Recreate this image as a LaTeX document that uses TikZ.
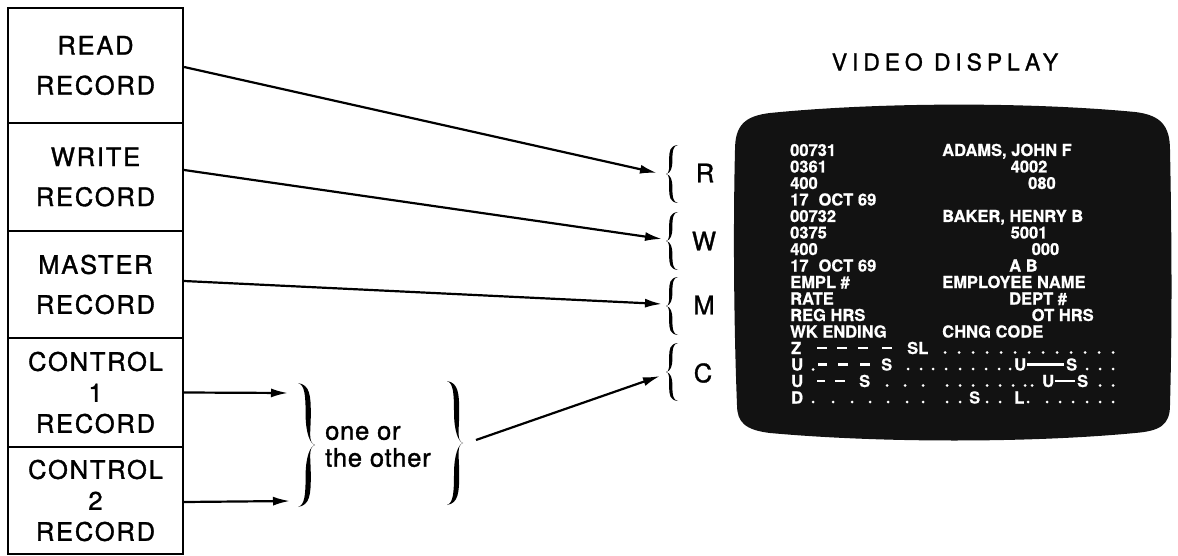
\documentclass[tikz,border=0pt]{standalone}
\usepackage{fontspec}
\setmainfont{TeX Gyre Heros}
\newfontfamily\lblfont[LetterSpace=7,FakeBold=1.3]{TeX Gyre Heros}
\newfontfamily\notefont[LetterSpace=3,FakeBold=1.3]{TeX Gyre Heros}
\newfontfamily\ttlfont[LetterSpace=21,FakeBold=1.2]{TeX Gyre Heros}
\newfontfamily\scrfont[BoldFeatures={FakeBold=0.7}]{TeX Gyre Heros}
\usetikzlibrary{arrows.meta}
\definecolor{screenblack}{HTML}{121212}
\newcommand\mybrace[5]{%
\fill[black] ({#1+(#4)},{#2-(#3)})
 .. controls ({#1+0.45*(#4)-(#5)},{#2-0.97*(#3)}) and ({#1+0.4*(#4)-(#5)},{#2-0.8*(#3)}) .. ({#1+0.4*(#4)-(#5)},{#2-0.5*(#3)})
 .. controls ({#1+0.4*(#4)-(#5)},{#2-0.2*(#3)}) and ({#1+0.3*(#4)},{#2-0.02*(#3)}) .. (#1,#2)
 .. controls ({#1+0.3*(#4)},{#2+0.02*(#3)}) and ({#1+0.4*(#4)-(#5)},{#2+0.2*(#3)}) .. ({#1+0.4*(#4)-(#5)},{#2+0.5*(#3)})
 .. controls ({#1+0.4*(#4)-(#5)},{#2+0.8*(#3)}) and ({#1+0.45*(#4)-(#5)},{#2+0.97*(#3)}) .. ({#1+(#4)},{#2+(#3)})
 .. controls ({#1+0.45*(#4)+(#5)},{#2+0.97*(#3)}) and ({#1+0.4*(#4)+(#5)},{#2+0.8*(#3)}) .. ({#1+0.4*(#4)+(#5)},{#2+0.5*(#3)})
 .. controls ({#1+0.4*(#4)+(#5)},{#2+0.2*(#3)}) and ({#1+0.42*(#4)},{#2+0.04*(#3)}) .. (#1,#2)
 .. controls ({#1+0.42*(#4)},{#2-0.04*(#3)}) and ({#1+0.4*(#4)+(#5)},{#2-0.2*(#3)}) .. ({#1+0.4*(#4)+(#5)},{#2-0.5*(#3)})
 .. controls ({#1+0.4*(#4)+(#5)},{#2-0.8*(#3)}) and ({#1+0.45*(#4)+(#5)},{#2-0.97*(#3)}) .. ({#1+(#4)},{#2-(#3)}) -- cycle;}
\newcommand\sdots[2]{\foreach \xx in {#2} {\fill[white] (\xx,#1) circle (1.5);}}
\newcommand\sdash[3]{\draw[white,line width=2.4pt] (#1,#3) -- (#2,#3);}
\begin{document}
\begin{tikzpicture}[x=1pt,y=-1pt,
  box/.style={draw, line width=2.2pt, minimum width=175pt, inner sep=0pt, align=center},
  two/.style={font=\lblfont\fontsize{25.5}{40}\selectfont},
  three/.style={font=\lblfont\fontsize{25.5}{31}\selectfont},
  letter/.style={font=\lblfont\fontsize{25.5}{25.5}\selectfont, inner sep=0pt},
  arr/.style={-{Latex[length=17pt,width=9pt]}, line width=2.2pt},
  scr/.style={text=white, font=\scrfont\bfseries\fontsize{16.5}{16.5}\selectfont, anchor=base west, inner sep=0pt}]
\fill[white] (0,0) rectangle (1178,556);
\useasboundingbox (0,0) rectangle (1178,556);

% record boxes
\node[box,two,minimum height=115pt] (read) at (95.5,65.5) {READ\\RECORD};
\node[box,two,minimum height=108pt] (write) at (95.5,177) {WRITE\\RECORD};
\node[box,two,minimum height=107pt] (master) at (95.5,284.5) {MASTER\\RECORD};
\node[box,three,minimum height=109pt] (ctrla) at (95.5,392.5) {CONTROL\\1\\RECORD};
\node[box,three,minimum height=107pt] (ctrlb) at (95.5,500.5) {CONTROL\\2\\RECORD};

% braces
\mybrace{666}{174}{29}{12}{1.6}
\mybrace{666}{241}{29}{12}{1.6}
\mybrace{666}{306}{29}{12}{1.6}
\mybrace{666}{372}{29}{12}{1.6}
\mybrace{315}{445}{62}{-17}{2.6}
\mybrace{463}{443}{62}{-16}{2.6}

\coordinate (rtip) at (657,173);
\coordinate (wtip) at (662,239);
\coordinate (mtip) at (662,304);
\coordinate (ctip) at (660,376);
\coordinate (onetip) at (288,393);
\coordinate (twotip) at (290,501);
\coordinate (other) at (476,440);

\node[letter] (lr) at (705,173) {R};
\node[letter] (lw) at (704,241) {W};
\node[letter] (lm) at (704,305) {M};
\node[letter] (lc) at (703,373) {C};

\node[anchor=west, align=left, inner sep=0pt, font=\notefont\fontsize{25.5}{27}\selectfont] (oneor) at (325,446.5) {one or\\the other};

% arrows
\draw[arr] ([yshift=-1.5pt]read.east) -- (rtip);
\draw[arr] ([yshift=7pt]write.east) -- (wtip);
\draw[arr] ([yshift=3.5pt]master.east) -- (mtip);
\draw[arr] (ctrla.east) -- (onetip);
\draw[arr] ([yshift=-1.5pt]ctrlb.east) -- (twotip);
\draw[arr] (other) -- (ctip);

% title
\node[inner sep=0pt, font=\ttlfont\fontsize{23}{23}\selectfont] (title) at (945,62) {VIDEO DISPLAY};

% screen
\fill[screenblack] (735,150) .. controls (735,125) and (745,116) .. (770,113)
 .. controls (880,102) and (1030,102) .. (1135,112)
 .. controls (1160,115) and (1170,125) .. (1170,150)
 .. controls (1172,250) and (1172,330) .. (1170,405)
 .. controls (1170,425) and (1160,431) .. (1135,433)
 .. controls (1030,443) and (880,443) .. (770,433)
 .. controls (745,430) and (737,422) .. (737,405)
 .. controls (734,330) and (733,230) .. (735,150) -- cycle;

% screen text, left column
\node[scr] (a0) at (790,156) {00731};
\node[scr] (a1) at (790,172.5) {0361};
\node[scr] (a2) at (790,189) {400};
\node[scr] (a3) at (790,205.5) {17\hspace{10pt}OCT 69};
\node[scr] (a4) at (790,222) {00732};
\node[scr] (a5) at (790,238.5) {0375};
\node[scr] (a6) at (790,255) {400};
\node[scr] (a7) at (790,271.5) {17\hspace{10pt}OCT 69};
\node[scr] (a8) at (790,288) {EMPL \#};
\node[scr] (a9) at (790,304.5) {RATE};
\node[scr] (a10) at (790,321) {REG HRS};
\node[scr] (a11) at (790,337.5) {WK ENDING};
% right column
\node[scr] (b0) at (942,156) {ADAMS, JOHN F};
\node[scr] (b1) at (1010.5,172.5) {4002};
\node[scr] (b2) at (1028,189) {080};
\node[scr] (b4) at (942,222) {BAKER, HENRY B};
\node[scr] (b5) at (1010.5,238.5) {5001};
\node[scr] (b6) at (1031.5,255) {000};
\node[scr] (b7) at (1009,271.5) {A B};
\node[scr] (b8) at (942,288) {EMPLOYEE NAME};
\node[scr] (b9) at (1009,304.5) {DEPT \#};
\node[scr] (b10) at (1031.5,321) {OT HRS};
\node[scr] (b11) at (942,337.5) {CHNG CODE};

% row Z
\node[scr] (z0) at (791,354) {Z};
\sdash{817}{827}{348}\sdash{837}{847}{348}\sdash{858}{868}{348}\sdash{882}{892}{348}
\node[scr] (z1) at (907,354) {SL};
\sdots{352.5}{945,959,973,987,1001,1015,1029,1043,1057,1071,1085,1099,1113}
% row U 1
\node[scr] (u0) at (791,370.5) {U};
\sdots{369.5}{813}
\sdash{818}{827}{364.5}\sdash{838}{848}{364.5}\sdash{860}{870}{364.5}
\node[scr] (u1) at (881,370.5) {S};
\sdots{369}{908,921,933,946,960,973,986,999,1010}
\node[scr] (u2) at (1014,370.5) {U};
\sdash{1027}{1064}{364.5}
\node[scr] (u3) at (1066,370.5) {S};
\sdots{369}{1087,1100,1113}
% row U 2
\node[scr] (v0) at (791,387) {U};
\sdash{817}{825}{381}\sdash{835}{845}{381}
\node[scr] (v1) at (859,387) {S};
\sdots{385.5}{887,905,923,947,960,973,987,1000,1013,1025,1032}
\node[scr] (v2) at (1042,387) {U};
\sdash{1055}{1075}{381}
\node[scr] (v3) at (1077,387) {S};
\sdots{385.5}{1100,1113}
% row D
\node[scr] (d0) at (791,403.5) {D};
\sdots{402}{813,833,852,870,888,907,923,947,960}
\node[scr] (d1) at (969,403.5) {S};
\sdots{402}{987,1000}
\node[scr] (d2) at (1014,403.5) {L};
\sdots{402}{1028,1047,1060,1073,1087,1100,1113}
\end{tikzpicture}
\end{document}
